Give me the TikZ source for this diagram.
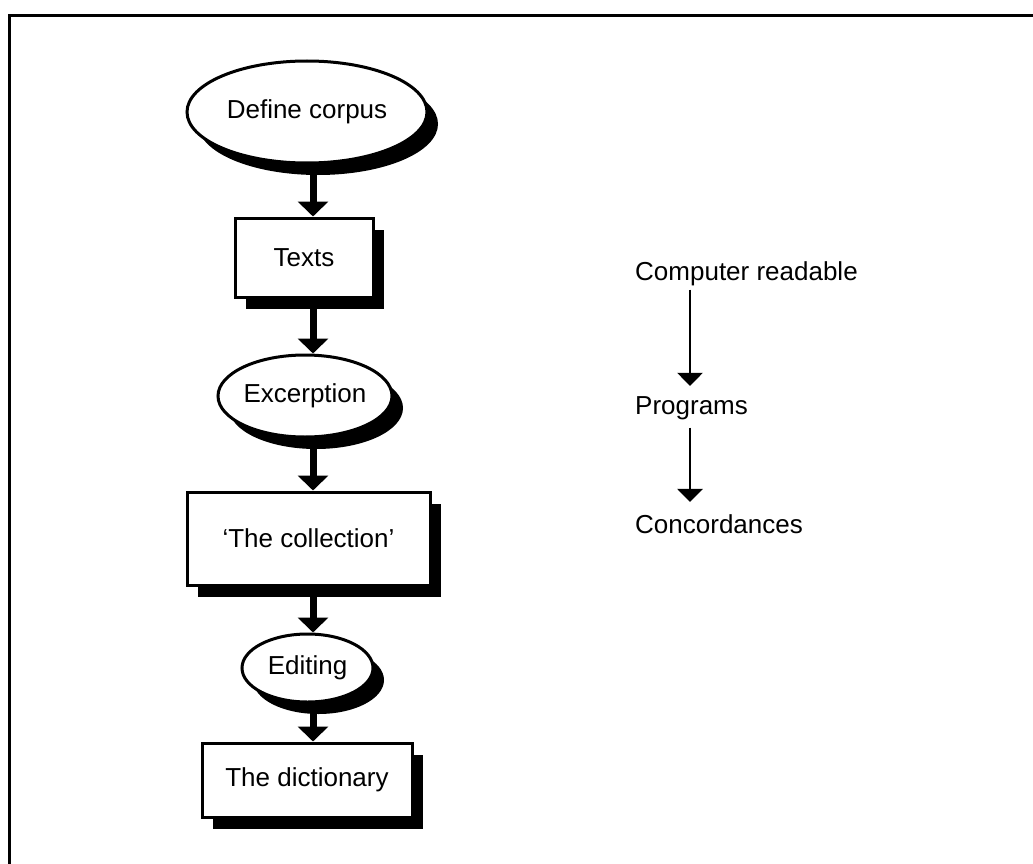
\documentclass[tikz,border=0pt]{standalone}
\usepackage{fontspec}
\setmainfont{Liberation Sans}
\usetikzlibrary{shapes.geometric,arrows.meta,shadows}
\begin{document}
\begin{tikzpicture}[x=1pt,y=-1pt,
  every node/.style={font=\fontsize{26}{31}\selectfont},
  shade/.style={drop shadow={shadow xshift=11pt,shadow yshift=-12pt,fill=black,opacity=1}},
  stepbox/.style={draw,line width=3pt,fill=white,rectangle,inner sep=0pt,shade},
  stepoval/.style={draw,line width=3pt,fill=white,ellipse,inner sep=0pt,shade},
  bigarrow/.style={line width=7pt,-{Triangle[width=30pt,length=15pt]}},
  thinarrow/.style={line width=2.5pt,-{Triangle[width=25pt,length=13pt]}},
  label/.style={inner sep=0pt,anchor=base west}]
\useasboundingbox (0,0) rectangle (1033,864);
% frame edges
\draw[line width=3pt] (9.5,864) -- (9.5,15.5) -- (1033,15.5);

% left column: the process
\coordinate (spine) at (313,0);
\node[stepoval,minimum width=240pt,minimum height=102pt] (dc) at (307,112) {Define corpus};
\node[stepbox,minimum width=138pt,minimum height=79pt] (tx) at (304,257.5) {Texts};
\node[stepoval,minimum width=174pt,minimum height=82pt] (ex) at (305,396) {Excerption};
\node[stepbox,minimum width=243pt,minimum height=93pt] (co) at (308.5,538.5) {`The collection'};
\node[stepoval,minimum width=131pt,minimum height=68pt] (ed) at (307.5,668) {Editing};
\node[stepbox,minimum width=210pt,minimum height=74pt] (di) at (307,780) {The dictionary};

\draw[bigarrow] (dc.south -| spine) -- (tx.north -| spine);
\draw[bigarrow] (tx.south -| spine) -- (ex.north -| spine);
\draw[bigarrow] (ex.south -| spine) -- (co.north -| spine);
\draw[bigarrow] (co.south -| spine) -- (ed.north -| spine);
\draw[bigarrow] (ed.south -| spine) -- (di.north -| spine);

% right column: the computer route
\coordinate (rspine) at (690,0);
\node[label] (cr) at (635,280) {Computer readable};
\node[label] (pr) at (635,414) {Programs};
\node[label] (cc) at (635,533) {Concordances};
\draw[thinarrow,shorten <=4pt,shorten >=10pt] (cr.south -| rspine) -- (pr.north -| rspine);
\draw[thinarrow,shorten <=8pt,shorten >=12pt] (pr.south -| rspine) -- (cc.north -| rspine);
\end{tikzpicture}
\end{document}
